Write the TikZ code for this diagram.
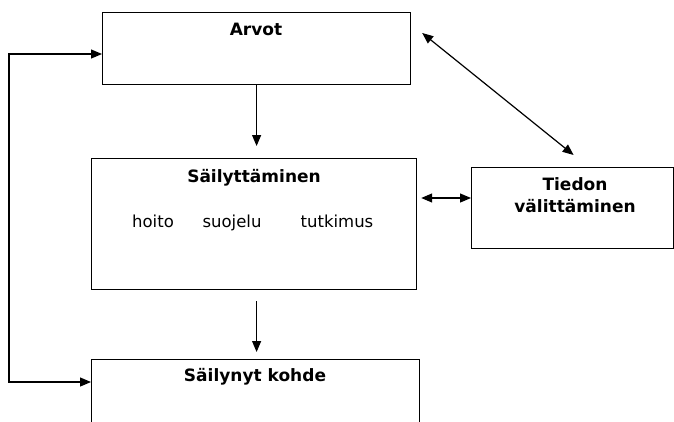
\documentclass[tikz,border=0pt]{standalone}
\usepackage{fontspec}
\setmainfont{DejaVu Sans}
\usetikzlibrary{arrows.meta,calc}
\begin{document}
\begin{tikzpicture}[x=1pt,y=-1pt,
  box/.style={draw, line width=1.2pt, inner sep=0pt, anchor=north west},
  ttl/.style={inner sep=0pt, font=\fontsize{17}{20}\selectfont\bfseries},
  itm/.style={inner sep=0pt, anchor=base, font=\fontsize{16.5}{20}\selectfont},
  tip/.style={Triangle[length=11pt,width=9pt]},
  arr/.style={line width=1.2pt, -{Triangle[length=11pt,width=9pt]}},
  darr/.style={line width=1.2pt, {Triangle[length=11pt,width=9pt]}-{Triangle[length=11pt,width=9pt]}}]
\useasboundingbox (0,0) rectangle (674,421);
\clip (0,0) rectangle (674,421);
% boxes
\node[box, minimum width=308pt, minimum height=72pt] (arvot) at (102,12) {};
\node[box, minimum width=325pt, minimum height=131pt] (sail) at (91,158) {};
\node[box, minimum width=202pt, minimum height=81pt] (tied) at (471,167) {};
\node[box, minimum width=328pt, minimum height=90pt] (kohde) at (91,359) {};
% texts
\node[ttl] (tarvot) at (256,29) {Arvot};
\node[ttl] (tsail) at (254,178) {Säilyttäminen};
\node[itm] (hoito) at (153,227) {hoito};
\node[itm] (suoj) at (232,227) {suojelu};
\node[itm] (tutk) at (337,227) {tutkimus};
\node[ttl, align=center, font=\fontsize{17}{22}\selectfont\bfseries] (ttied) at (575,195) {Tiedon\\välittäminen};
\node[ttl] (tkohde) at (255,377) {Säilynyt kohde};
% connectors
\draw[arr, shorten >=12pt] (arvot.south) -- (sail.north -| arvot.south);
\draw[arr, shorten <=11pt, shorten >=7pt] (sail.south -| arvot.south) -- (kohde.north -| arvot.south);
\draw[darr, shorten <=4pt] (sail.east |- 0,198) -- (tied.west |- 0,198);
\coordinate (d1) at ($(arvot.north east)+(11,21)$);
\coordinate (d2) at ($(tied.north)+(1,-12)$);
\draw[darr] (d1) -- (d2);
\coordinate (l1) at (9,54);
\coordinate (l2) at (9,382);
\draw[darr] (arvot.west |- l1) -- (l1) -- (l2) -- (kohde.west |- l2);
\end{tikzpicture}
\end{document}
